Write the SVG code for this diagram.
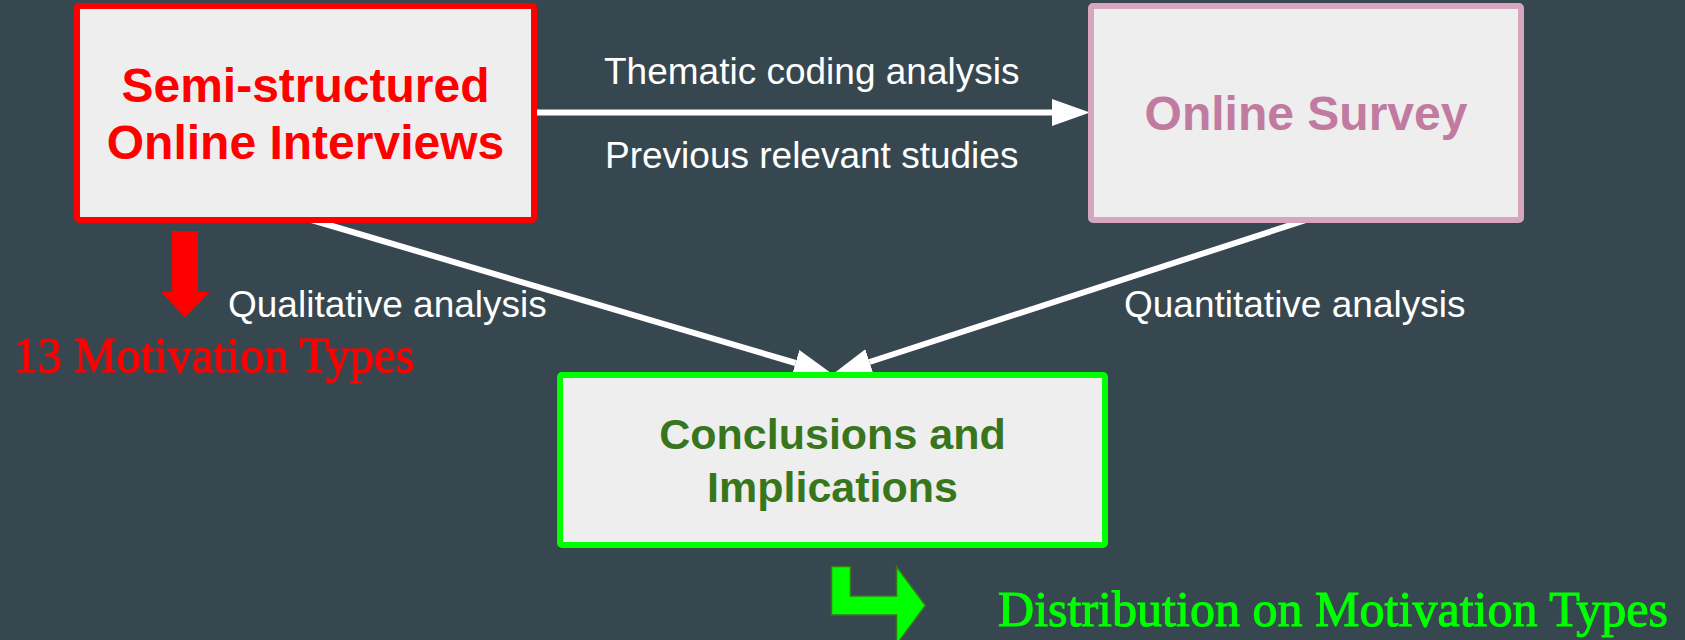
<svg xmlns="http://www.w3.org/2000/svg" width="1685" height="640" viewBox="0 0 1685 640">
  <style>
    .box { fill: #eeeeee; stroke-width: 6; }
    .title { font-family: "Liberation Sans", Arial, sans-serif; font-weight: bold; text-anchor: middle; }
    .label { font-family: "Liberation Sans", Arial, sans-serif; font-size: 37px; fill: #ffffff; }
    .deco { font-family: "Liberation Serif", "Times New Roman", serif; font-size: 50px; stroke-width: 1.1; }
    .conn { stroke: #ffffff; stroke-width: 6; fill: none; }
  </style>
  <defs>
    <marker id="head" markerUnits="userSpaceOnUse" markerWidth="40" markerHeight="28" refX="0" refY="13.5" orient="auto">
      <path d="M0,0 L38,13.5 L0,27 z" fill="#ffffff"/>
    </marker>
  </defs>
  <rect x="0" y="0" width="1685" height="640" fill="#37474f"/>

  <g id="connectors">
    <line class="conn" x1="534" y1="112.5" x2="1052" y2="112.5" marker-end="url(#head)"/>
    <line class="conn" x1="305" y1="218" x2="795.5" y2="363" marker-end="url(#head)"/>
    <line class="conn" x1="1306" y1="220" x2="869.5" y2="362" marker-end="url(#head)"/>
  </g>

  <g id="node-interviews">
    <rect class="box" x="77" y="6" width="457" height="214" rx="2" stroke="#ff0000"/>
    <text class="title" x="305.5" y="102" font-size="48" fill="#ff0000">Semi-structured</text>
    <text class="title" x="305.5" y="159" font-size="48" fill="#ff0000">Online Interviews</text>
  </g>

  <g id="node-survey">
    <rect class="box" x="1091" y="6" width="430" height="214" rx="2" stroke="#d5a6bd"/>
    <text class="title" x="1306" y="130" font-size="48" fill="#c27ba0">Online Survey</text>
  </g>

  <g id="node-conclusions">
    <rect class="box" x="560" y="375" width="545" height="170" rx="2" stroke="#00ff00"/>
    <text class="title" x="832.5" y="449" font-size="43" fill="#38761d">Conclusions and</text>
    <text class="title" x="832.5" y="501.5" font-size="43" fill="#38761d">Implications</text>
  </g>

  <g id="labels">
    <text class="label" x="604" y="84">Thematic coding analysis</text>
    <text class="label" x="605" y="168">Previous relevant studies</text>
    <text class="label" x="228" y="316.5">Qualitative analysis</text>
    <text class="label" x="1124" y="316.5">Quantitative analysis</text>
  </g>

  <g id="motivation-types">
    <polygon points="172,231 198,231 198,292 209.5,292 185,317.5 161,292 172,292" fill="#ff0000"/>
    <text class="deco" x="13.5" y="372" fill="#ff0000" stroke="#ff0000" textLength="401" lengthAdjust="spacingAndGlyphs">13 Motivation Types</text>
  </g>

  <g id="distribution">
    <polygon points="831.5,566.5 850.5,566.5 850.5,596 896.5,596 896.5,566.5 925.5,605.5 896.5,644.5 896.5,615 831.5,615" fill="#00ff00" stroke="#38761d" stroke-width="1.5"/>
    <text class="deco" x="998" y="626" fill="#00ff00" stroke="#00ff00" textLength="670" lengthAdjust="spacingAndGlyphs">Distribution on Motivation Types</text>
  </g>
</svg>
